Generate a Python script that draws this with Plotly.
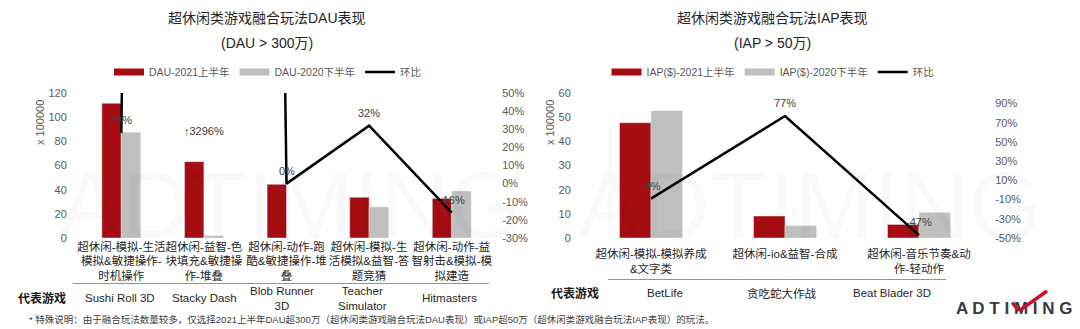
import plotly.graph_objects as go

W, H = 1080, 329
def px(x): return x / W
def py(y): return 1 - y / H

FONT = "Liberation Sans, Noto Sans CJK SC, sans-serif"
RED = "#A50D12"
GRAY = "#BFBFBF"
TXT = "#404040"

# ---------------- data ----------------
dau_cats = [
    "超休闲-模拟-生活<br>模拟&敏捷操作-<br>时机操作",
    "超休闲-益智-色<br>块填充&敏捷操<br>作-堆叠",
    "超休闲-动作-跑<br>酷&敏捷操作-堆<br>叠",
    "超休闲-模拟-生<br>活模拟&益智-答<br>题竞猜",
    "超休闲-动作-益<br>智射击&模拟-模<br>拟建造",
]
dau_2021h1 = [111.5, 63.2, 44.4, 33.7, 32.8]
dau_2020h2 = [87.5, 1.9, None, 25.7, 38.9]
dau_ratio = [28, 3296, 0, 32, -16]
dau_games = ["Sushi Roll 3D", "Stacky Dash", "Blob Runner<br>3D", "Teacher<br>Simulator", "Hitmasters"]
dau_left_ticks = [0, 20, 40, 60, 80, 100, 120]
dau_right_ticks = [-30, -20, -10, 0, 10, 20, 30, 40, 50]

iap_cats = [
    "超休闲-模拟-模拟养成<br>&文字类",
    "超休闲-io&益智-合成",
    "超休闲-音乐节奏&动<br>作-轻动作",
]
iap_2021h1 = [47.7, 9.1, 5.6]
iap_2020h2 = [52.7, 5.1, 10.6]
iap_ratio = [-9, 77, -47]
iap_games = ["BetLife", "贪吃蛇大作战", "Beat Blader 3D"]
iap_left_ticks = [0, 10, 20, 30, 40, 50, 60]
iap_right_ticks = [-50, -30, -10, 10, 30, 50, 70, 90]

fig = go.Figure()

# left chart
fig.add_trace(go.Bar(x=dau_cats, y=dau_2021h1, marker_color=RED, xaxis="x", yaxis="y",
                     showlegend=False))
fig.add_trace(go.Bar(x=dau_cats, y=dau_2020h2, marker_color=GRAY, xaxis="x", yaxis="y",
                     showlegend=False))
fig.add_trace(go.Scatter(x=dau_cats, y=dau_ratio, mode="lines", line=dict(color="black", width=2.5),
                         xaxis="x", yaxis="y2", showlegend=False))
# right chart
fig.add_trace(go.Bar(x=iap_cats, y=iap_2021h1, marker_color=RED, xaxis="x2", yaxis="y3",
                     showlegend=False))
fig.add_trace(go.Bar(x=iap_cats, y=iap_2020h2, marker_color=GRAY, xaxis="x2", yaxis="y3",
                     showlegend=False))
fig.add_trace(go.Scatter(x=iap_cats, y=iap_ratio, mode="lines", line=dict(color="black", width=2.5),
                         xaxis="x2", yaxis="y4", showlegend=False))

# legend entries
for name, col, w, lg in [("DAU-2021上半年", RED, 7, "legend"), ("DAU-2020下半年", GRAY, 7, "legend"),
                         ("环比", "black", 2.5, "legend"),
                         ("IAP($)-2021上半年", RED, 7, "legend2"), ("IAP($)-2020下半年", GRAY, 7, "legend2"),
                         ("环比", "black", 2.5, "legend2")]:
    fig.add_trace(go.Scatter(x=[None], y=[None], mode="lines", name=name,
                             line=dict(color=col, width=w), legend=lg, showlegend=True,
                             xaxis="x", yaxis="y"))

ydom = [py(238), py(93)]
tickfont = dict(family=FONT, size=11, color="#595959")
catfont = dict(family=FONT, size=11.5, color="#262626")
common = dict(showgrid=False, zeroline=False, showline=False, automargin=False, fixedrange=True)

fig.update_layout(
    width=W, height=H, margin=dict(l=0, r=0, t=0, b=0, autoexpand=False),
    paper_bgcolor="white", plot_bgcolor="rgba(0,0,0,0)",
    barmode="group", bargap=0.53, bargroupgap=0,
    font=dict(family=FONT, color=TXT),
    xaxis=dict(domain=[px(80), px(493)], anchor="y", ticks="", tickangle=0, tickfont=catfont, **common),
    yaxis=dict(domain=ydom, range=[0, 120], tickvals=dau_left_ticks,
               ticks="outside", ticklen=10, tickcolor="rgba(0,0,0,0)", tickfont=tickfont, **common),
    yaxis2=dict(overlaying="y", side="right", anchor="x", range=[-30, 50], tickvals=dau_right_ticks,
                ticktext=[f"{v}%" for v in dau_right_ticks],
                ticks="outside", ticklen=6, tickcolor="rgba(0,0,0,0)", tickfont=tickfont, **common),
    xaxis2=dict(domain=[px(584), px(986)], anchor="y3", ticks="outside", ticklen=5,
                tickcolor="rgba(0,0,0,0)", tickangle=0, tickfont=catfont, **common),
    yaxis3=dict(domain=ydom, anchor="x2", range=[0, 60], tickvals=iap_left_ticks,
                ticks="outside", ticklen=10, tickcolor="rgba(0,0,0,0)", tickfont=tickfont, **common),
    yaxis4=dict(overlaying="y3", side="right", anchor="x2", range=[-50, 101], tickvals=iap_right_ticks,
                ticktext=[f"{v}%" for v in iap_right_ticks],
                ticks="outside", ticklen=6, tickcolor="rgba(0,0,0,0)", tickfont=tickfont, **common),
    legend=dict(orientation="h", x=px(268), y=py(72), xanchor="center", yanchor="middle",
                font=dict(family=FONT, size=10.5, color="#595959"), itemwidth=30, tracegroupgap=0),
    legend2=dict(orientation="h", x=px(773), y=py(72), xanchor="center", yanchor="middle",
                 font=dict(family=FONT, size=10.5, color="#595959"), itemwidth=30, tracegroupgap=0),
)

ann = []
def text(x, y, t, size=11, color=TXT, bold=False, **kw):
    d = dict(x=px(x), y=py(y), xref="paper", yref="paper", text=(f"<b>{t}</b>" if bold else t),
             showarrow=False, xanchor="center", yanchor="middle",
             font=dict(family=FONT, size=size, color=color))
    d.update(kw)
    ann.append(d)

def seg(x0, y0, x1, y1, color, width):
    # a plain line segment drawn as an annotation arrow without head
    ann.append(dict(x=px(x1), y=py(y1), xref="paper", yref="paper", text="", showarrow=True,
                    ax=x0 - x1, ay=y0 - y1, axref="pixel", ayref="pixel",
                    arrowhead=0, arrowwidth=width, arrowcolor=color, standoff=0, startstandoff=0))

def rule(x0, x1, y, color, size=13):
    # horizontal table rule written with full-width box-drawing characters
    n = int(round((x1 - x0) / size))
    ann.append(dict(x=px((x0 + x1) / 2), y=py(y), xref="paper", yref="paper", text="─" * n,
                    showarrow=False, xanchor="center", yanchor="middle",
                    font=dict(family="Noto Sans CJK SC", size=size, color=color)))

# watermarks
text(290, 205, "ADTIMING", size=95, color="rgba(0,0,0,0.025)")
text(810, 205, "ADTIMING", size=95, color="rgba(0,0,0,0.025)")

# titles
text(267, 18, "超休闲类游戏融合玩法DAU表现", size=14, color="#262626")
text(267, 43, "(DAU > 300万)", size=14, color="#262626")
text(772, 18, "超休闲类游戏融合玩法IAP表现", size=14, color="#262626")
text(772, 43, "(IAP > 50万)", size=14, color="#262626")

# y titles
text(40, 123, "x 100000", size=11, color="#595959", textangle=-90)
text(550, 123, "x 100000", size=11, color="#595959", textangle=-90)

# data labels for ratio lines
for i, v in enumerate(dau_ratio):
    if v > 50:
        ann.append(dict(x=i, y=29, xref="x", yref="y2", text=f"↑{v}%", showarrow=False,
                        font=dict(family=FONT, size=11, color=TXT)))
    else:
        ann.append(dict(x=i, y=v, xref="x", yref="y2", text=f"{v}%", showarrow=False, yshift=13,
                        font=dict(family=FONT, size=11, color=TXT)))
for i, v in enumerate(iap_ratio):
    ann.append(dict(x=i, y=v, xref="x2", yref="y4", text=f"{v}%", showarrow=False, yshift=13,
                    font=dict(family=FONT, size=11, color=TXT)))

# table separators
rule(73, 489, 282, "#404040")
rule(608, 946, 278, "#404040")

# representative games
text(42, 298, "代表游戏", size=12, color="#1a1a1a", bold=True)
for xx, g in zip([119.5, 204, 282, 362, 449], dau_games):
    text(xx, 298, g, size=11.5, color="#262626")
text(575, 293, "代表游戏", size=12, color="#1a1a1a", bold=True)
for xx, g in zip([665, 781, 892], iap_games):
    text(xx, 293, g, size=11.5, color="#262626")

# footnote
text(27, 319, "* 特殊说明：由于融合玩法数量较多，仅选择2021上半年DAU超300万（超休闲类游戏融合玩法DAU表现）或IAP超50万（超休闲类游戏融合玩法IAP表现）的玩法。",
     size=9.5, color="#404040", xanchor="left")

# logo
text(1014, 308, "A D T I M I N G", size=17, color="#3a3a3a", bold=True)
seg(1011, 301, 1019, 311, "#C8102E", 3.5)
seg(1019, 311, 1047, 291, "#C8102E", 3.5)

fig.update_layout(annotations=ann)

fig.write_html("out.html")
